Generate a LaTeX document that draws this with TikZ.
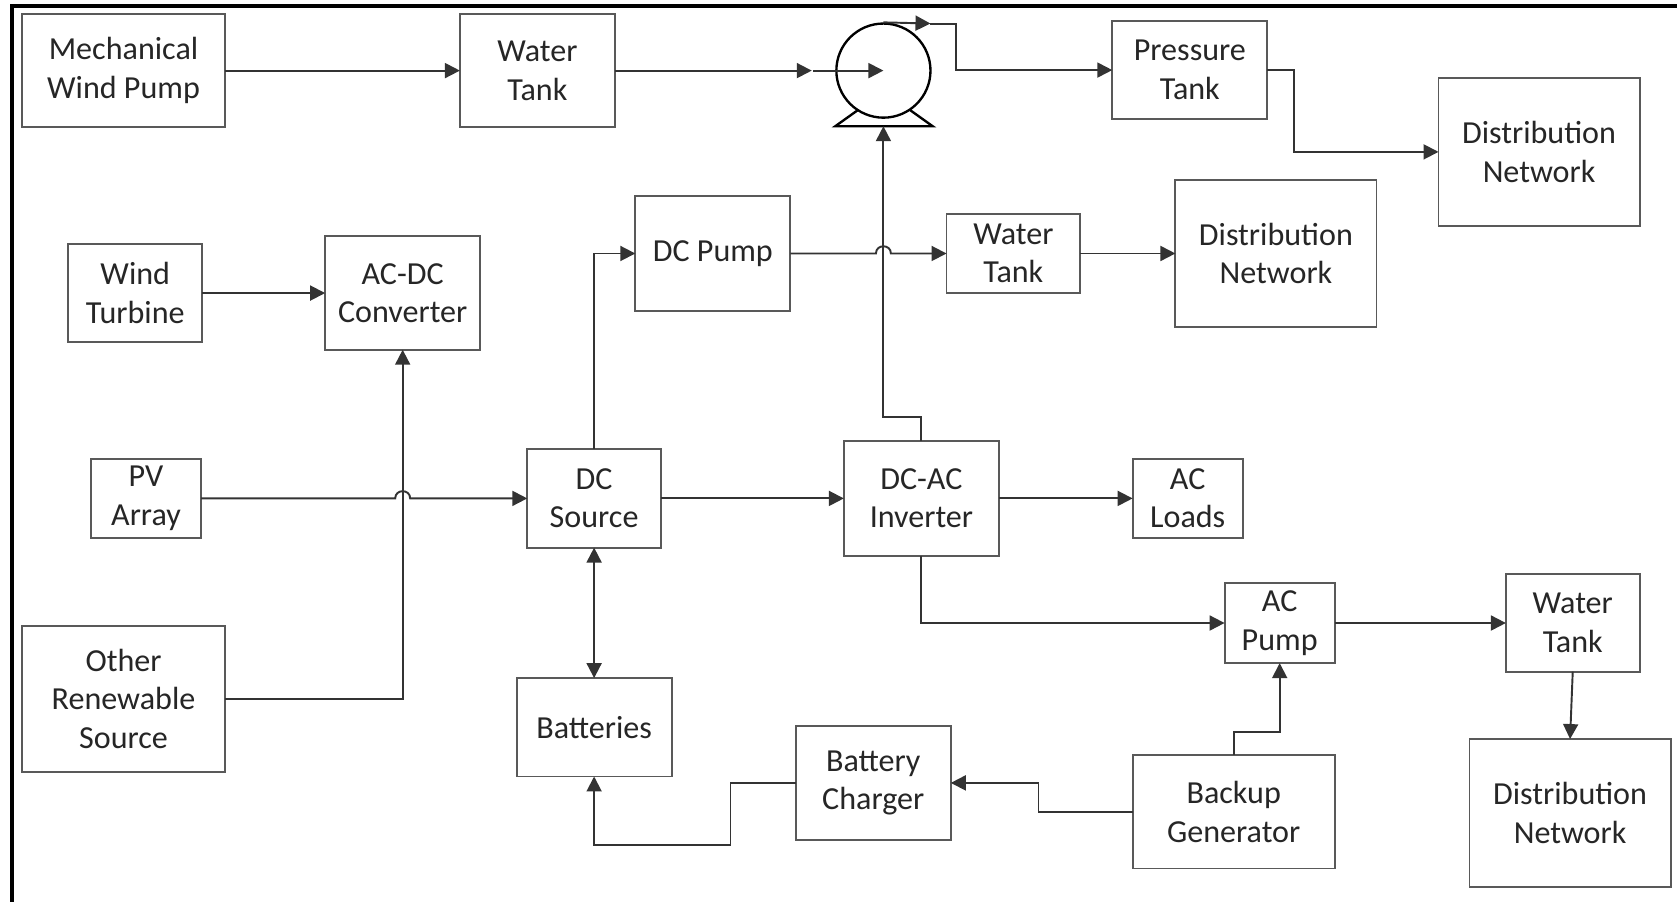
\documentclass[tikz,border=0pt]{standalone}
\usepackage{fontspec}
\setmainfont{Carlito}
\usetikzlibrary{arrows.meta}

\tikzset{
  blk/.style 2 args={draw=black!65, line width=0.9pt, fill=white,
    minimum width=#1*0.5pt, minimum height=#2*0.5pt, inner sep=0pt, outer sep=0pt,
    align=center, text=black!85, font=\fontsize{15}{18}\selectfont},
  wire/.style={draw=black!80, line width=0.9pt},
  flow/.style={wire, -{Triangle[length=7pt,width=7pt]}},
  both/.style={wire, {Triangle[length=7pt,width=7pt]}-{Triangle[length=7pt,width=7pt]}},
}

\begin{document}
\begin{tikzpicture}[x=0.5pt,y=-0.5pt]
  \useasboundingbox (0,0) rectangle (1568,843);
  \draw[line width=1.9pt] (11,843) -- (11,6) -- (1568,6);

  % top row
  \node[blk={189}{106}] (mwp) at (115.5,66) {Mechanical\\Wind Pump};
  \node[blk={145}{106}] (wt1) at (502.5,66) {Water\\Tank};
  \node[blk={145}{91}] (pt) at (1112.5,65.5) {Pressure\\Tank};
  \node[blk={188}{138}] (dn1) at (1439,142) {Distribution\\Network};

  % pump symbol
  \draw[line width=1.1pt] (802,103) -- (781,118) -- (872,118) -- (851,103);
  \node[circle, draw, line width=1.1pt, fill=white, minimum size=44pt, inner sep=0pt] (pmp) at (826,66) {};
  \coordinate (pbase) at (826,118);
  \coordinate (pin) at (759,66);
  \coordinate (pout) at (870,22);

  % middle
  \node[blk={125}{92}] (wt) at (126.5,274) {Wind\\Turbine};
  \node[blk={145}{106}] (acdc) at (376.5,274) {AC-DC\\Converter};
  \node[blk={145}{107}] (dcp) at (666.5,237) {DC Pump};
  \node[blk={125}{74}] (wt2) at (947.5,237) {Water\\Tank};
  \node[blk={188}{138}] (dn2) at (1193,237) {Distribution\\Network};
  \node[blk={103}{74}] (pv) at (136.5,466) {PV\\Array};
  \node[blk={125}{92}] (dcs) at (555.5,466) {DC\\Source};
  \node[blk={145}{107}] (dcac) at (861.5,466) {DC-AC\\Inverter};
  \node[blk={103}{74}] (acl) at (1110.5,466) {AC\\Loads};

  % bottom
  \node[blk={189}{137}] (ors) at (115.5,653.5) {Other\\Renewable\\Source};
  \node[blk={145}{92}] (bat) at (555.5,680) {Batteries};
  \node[blk={103}{75}] (acp) at (1196.5,582.5) {AC\\Pump};
  \node[blk={125}{91}] (wt3) at (1470.5,582.5) {Water\\Tank};
  \node[blk={145}{106}] (bc) at (816.5,732) {Battery\\Charger};
  \node[blk={189}{106}] (bg) at (1153.5,759) {Backup\\Generator};
  \node[blk={188}{138}] (dn3) at (1468,760) {Distribution\\Network};

  % connectors
  \draw[flow] (mwp.east) -- (wt1.west);
  \draw[flow] (wt1.east) -- (pin);
  \draw[flow] ([xshift=0.5pt]pin) -- (pmp.center);
  \draw[flow] (pmp.north) -- (pout);
  \draw[flow] (pout) -- ++(24,0) |- (pt.west);
  \draw[flow] (pt.east) -- ++(25,0) |- (dn1.west);
  \draw[flow] (wt.east) -- (acdc.west);
  \draw[flow] (ors.east) -| (acdc.south);
  \draw[flow] (pv.east) -- (369.5,466) .. controls (369.5,457) and (383.5,457) .. (383.5,466) -- (dcs.west);
  \draw[flow] (dcs.north) |- (dcp.west);
  \draw[flow] (dcp.east) -- (819,237) .. controls (819,228) and (833,228) .. (833,237) -- (wt2.west);
  \draw[flow] (wt2.east) -- (dn2.west);
  \draw[flow] (dcac.north) -- ++(0,-23) -| (pbase);
  \draw[flow] (dcs.east) -- (dcac.west);
  \draw[flow] (dcac.east) -- (acl.west);
  \draw[both] (dcs.south) -- (bat.north);
  \draw[flow] (dcac.south) |- (acp.west);
  \draw[flow] (acp.east) -- (wt3.west);
  \draw[flow] (wt3.south) -- (dn3.north);
  \draw[flow] (bg.north) -- ++(0,-22) -| (acp.south);
  \draw[flow] (bg.west) -- ++(-88,0) |- (bc.east);
  \draw[flow] (bc.west) -- ++(-61,0) -- ++(0,58) -| (bat.south);
\end{tikzpicture}
\end{document}
